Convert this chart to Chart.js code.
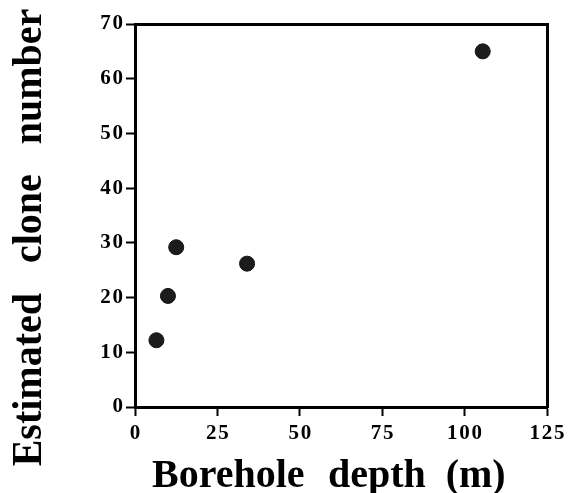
<!DOCTYPE html>
<html><head><meta charset="utf-8">
<script src="https://cdn.jsdelivr.net/npm/chart.js@4/dist/chart.umd.min.js"></script>
<style>html,body{margin:0;padding:0;background:#fff}#wrap{width:568px;height:493px}</style>
</head><body><div id="wrap"><canvas id="c" width="568" height="493"></canvas></div>
<script>
const depths = [6.5, 10, 12.5, 34, 105.5];
const clones = [12.2, 20.3, 29.2, 26.2, 65.0];
const xTicks = [0, 25, 50, 75, 100, 125];
const yTicks = [0, 10, 20, 30, 40, 50, 60, 70];
const xTitle = "Borehole\u2002\u200Adepth\u2002(m)";
const yTitle = "Estimated   clone   number";

const pts = depths.map((d, i) => ({x: d, y: clones[i]}));
const spaced = v => String(v).split('').join('\u200A');
const serif = "'Liberation Serif', 'Times New Roman', serif";
const tickFont = {family: serif, size: 21, weight: 'bold'};

const axisTitles = {
  id: 'axisTitles',
  afterDraw(chart) {
    const ctx = chart.ctx, a = chart.chartArea;
    ctx.save();
    ctx.fillStyle = '#000';
    ctx.textBaseline = 'alphabetic';
    ctx.font = "bold 40px " + serif;
    ctx.textAlign = 'left';
    ctx.fillText(xTitle, a.left + 17, 487);
    ctx.translate(41, 237.5);
    ctx.rotate(-Math.PI / 2);
    ctx.scale(0.93, 1);
    ctx.font = "bold 43px " + serif;
    ctx.textAlign = 'center';
    ctx.fillText(yTitle, 0, 0);
    ctx.restore();
  }
};

new Chart(document.getElementById('c'), {
  type: 'scatter',
  data: {datasets: [{data: pts, backgroundColor: '#1c1c1c', borderColor: '#111', borderWidth: 1, pointRadius: 7.5, pointHoverRadius: 7.5}]},
  plugins: [axisTitles],
  options: {
    responsive: false, animation: false,
    layout: {padding: 0},
    plugins: {legend: {display: false}, tooltip: {enabled: false}},
    scales: {
      x: {
        type: 'linear', min: 0, max: 125,
        afterBuildTicks: s => { s.ticks = xTicks.map(v => ({value: v})); },
        afterFit: s => { s.height = 86; s.paddingLeft = 0; s.paddingRight = 0; },
        ticks: {color: '#000', font: tickFont, padding: 5, callback: v => spaced(v), maxRotation: 0},
        grid: {display: true, drawOnChartArea: false, drawTicks: true, tickLength: 9, tickColor: '#000', tickWidth: 2},
        border: {display: true, color: '#000', width: 3}
      },
      y: {
        type: 'linear', min: 0, max: 70,
        afterBuildTicks: s => { s.ticks = yTicks.map(v => ({value: v})); },
        afterFit: s => { s.width = 135; s.paddingTop = 0; s.paddingBottom = 0; },
        ticks: {color: '#000', font: tickFont, padding: 3, callback: v => spaced(v)},
        grid: {display: true, drawOnChartArea: false, drawTicks: true, tickLength: 9, tickColor: '#000', tickWidth: 2},
        border: {display: true, color: '#000', width: 3}
      },
      x2: {
        type: 'linear', position: 'top', min: 0, max: 125,
        afterFit: s => { s.height = 24; s.paddingLeft = 0; s.paddingRight = 0; },
        ticks: {display: false}, grid: {display: false, drawTicks: false},
        border: {display: true, color: '#000', width: 3}
      },
      y2: {
        type: 'linear', position: 'right', min: 0, max: 70,
        afterFit: s => { s.width = 21; s.paddingTop = 0; s.paddingBottom = 0; },
        ticks: {display: false}, grid: {display: false, drawTicks: false},
        border: {display: true, color: '#000', width: 3}
      }
    }
  }
});
</script></body></html>
